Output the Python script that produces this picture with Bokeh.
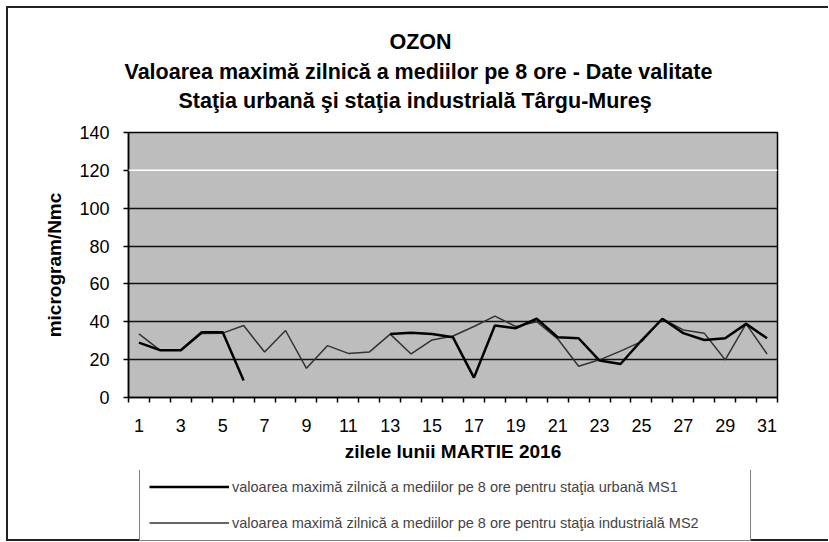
import math
from bokeh.plotting import figure
from bokeh.layouts import column
from bokeh.models import Legend, LegendItem, FixedTicker, Range1d, Span, Title
from bokeh.embed import file_html
from bokeh.resources import INLINE

NAN = float("nan")

days = list(range(1, 32))
x_tick_days = [1, 3, 5, 7, 9, 11, 13, 15, 17, 19, 21, 23, 25, 27, 29, 31]
y_ticks = [0, 20, 40, 60, 80, 100, 120, 140]

# urban station MS1 (missing data days 7-12)
ms1 = [29, 25, 25, 34.5, 34.5, 9, NAN, NAN, NAN, NAN, NAN, NAN,
       33.5, 34.2, 33.6, 31.8, 10.5, 38, 36.6, 41.6, 31.8, 31.3, 19.5,
       17.7, 30.1, 41.6, 34, 30.4, 31.3, 38.9, 31.3]
# industrial station MS2
ms2 = [33.6, 25, 25, 33.8, 34, 38, 24, 35.4, 15.4, 27.4, 23.3, 24,
       33.5, 23, 30.4, 32.5, 37.5, 43, 37.5, 40, 31, 16.5, 19.9, 24.5,
       29.5, 41.6, 35.7, 34, 19.9, 38.9, 23]

title_lines = ["OZON",
               "Valoarea maximă zilnică a mediilor pe 8 ore - Date valitate",
               "Staţia urbană şi staţia industrială Târgu-Mureş"]
legend_labels = ["valoarea maximă zilnică a mediilor pe 8 ore pentru staţia urbană MS1",
                 "valoarea maximă zilnică a mediilor pe 8 ore pentru staţia industrială MS2"]
x_label = "zilele lunii MARTIE 2016"
y_label = "microgram/Nmc"

FONT = "Liberation Sans"
MS1_STYLE = dict(line_color="black", line_width=2.5)
MS2_STYLE = dict(line_color="#333333", line_width=1.5)

p = figure(width=829, height=470, x_range=Range1d(0.5, 31.5), y_range=Range1d(0, 140),
           output_backend="svg", toolbar_location=None,
           min_border_left=128, min_border_right=52, min_border_top=132, min_border_bottom=73)
p.background_fill_color = "#bdbdbd"
p.border_fill_color = None
p.outline_line_color = "black"
p.outline_line_width = 1.5

# grid
p.xgrid.visible = False
p.ygrid.ticker = FixedTicker(ticks=[20, 40, 60, 80, 100])
p.ygrid.grid_line_color = "#111111"
p.ygrid.grid_line_width = 1.5
p.add_layout(Span(location=120, dimension="width", line_color="white", line_width=1.5))

# axes
p.yaxis.ticker = FixedTicker(ticks=y_ticks)
p.yaxis.major_tick_out = 5
p.yaxis.major_tick_in = 0
p.yaxis.minor_tick_line_color = None
p.yaxis.major_label_standoff = 14
p.yaxis.axis_label = y_label
p.yaxis.axis_label_standoff = 11

minor = [d - 0.5 for d in days] + [days[-1] + 0.5]
p.xaxis.ticker = FixedTicker(ticks=x_tick_days, minor_ticks=minor)
p.xaxis.major_tick_line_color = None
p.xaxis.minor_tick_out = 5
p.xaxis.minor_tick_in = 0
p.xaxis.minor_tick_line_color = "black"
p.xaxis.minor_tick_line_width = 1.5
p.xaxis.major_label_standoff = 15
p.xaxis.axis_label = x_label
p.xaxis.axis_label_standoff = 6

for ax in (p.xaxis[0], p.yaxis[0]):
    ax.axis_line_color = "black"
    ax.axis_line_width = 1.5
    ax.major_tick_line_width = 1.5
    ax.major_label_text_font = FONT
    ax.major_label_text_font_size = "18px"
    ax.major_label_text_color = "black"
    ax.axis_label_text_font = FONT
    ax.axis_label_text_font_size = "19px"
    ax.axis_label_text_font_style = "bold"
    ax.axis_label_text_color = "black"

p.line(days, ms2, **MS2_STYLE)
p.line(days, ms1, **MS1_STYLE)

# blank spacer between the plot area and the title block
p.add_layout(Title(text=" ", text_color="white", text_font=FONT, text_font_size="15px",
                   standoff=0), "above")
# title: three lines, added from the innermost outwards
offsets = [261, -4, 50]     # left offsets so the lines are centred over the chart
standoffs = [4, 4, 2]
for txt, off, so in reversed(list(zip(title_lines, offsets, standoffs))):
    p.add_layout(Title(text=txt, align="left", offset=off, standoff=so,
                       text_font=FONT, text_font_size="21.5px", text_font_style="bold",
                       text_color="black"), "above")

# legend panel below the chart (its frame is aligned with the chart's frame);
# the series are drawn out of view there so that the legend shows their line styles
lf = figure(width=829, height=72, x_range=Range1d(0.5, 31.5), y_range=Range1d(1000, 1001),
            output_backend="svg", toolbar_location=None,
            x_axis_type=None, y_axis_type=None, min_border=0)
lf.outline_line_color = None
lf.background_fill_color = None
lf.border_fill_color = None
lr1 = lf.line(days, ms1, **MS1_STYLE)
lr2 = lf.line(days, ms2, **MS2_STYLE)
legend = Legend(items=[LegendItem(label=legend_labels[0], renderers=[lr1]),
                       LegendItem(label=legend_labels[1], renderers=[lr2])],
                location=(11, 1), orientation="vertical",
                padding=9, spacing=19, glyph_width=80, glyph_height=17,
                label_standoff=3, label_width=509, label_height=17,
                label_text_font=FONT, label_text_font_size="14.5px",
                background_fill_color="white", background_fill_alpha=1.0,
                border_line_color="black", border_line_width=1.5, margin=0)
lf.add_layout(legend, "center")

# outer chart-area border (left, top and bottom edges) drawn as page background
chart_border = {
    "background-color": "white",
    "background-image": "linear-gradient(#222,#222), linear-gradient(#222,#222), linear-gradient(#222,#222)",
    "background-size": "2px 535px, 822px 2px, 822px 2px",
    "background-position": "6px 6px, 6px 6px, 6px 539px",
    "background-repeat": "no-repeat",
}
layout = column(p, lf, spacing=0, styles=chart_border)
open("out.html", "w").write(file_html(layout, INLINE))
